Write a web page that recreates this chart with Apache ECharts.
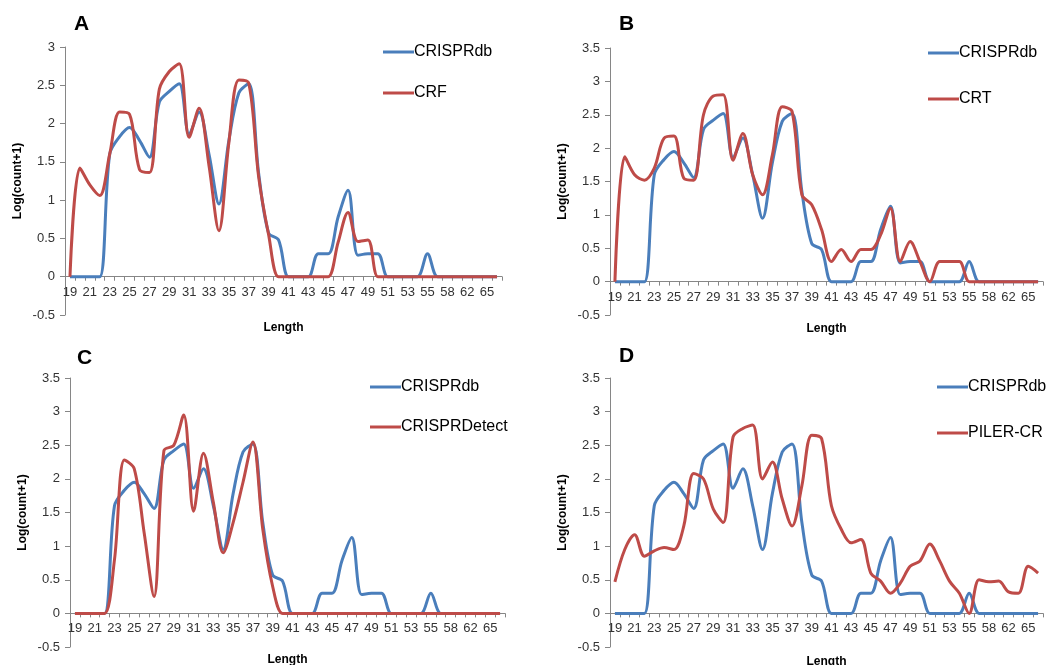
<!DOCTYPE html>
<html>
<head>
<meta charset="utf-8">
<script src="https://cdn.jsdelivr.net/npm/echarts@6/dist/echarts.min.js"></script>
<style>
html,body{margin:0;padding:0;background:#fff;}
#chart{width:1063px;height:665px;}
</style>
</head>
<body>
<div id="chart"></div>
<script>
// ---- data ----
const lengths = ['19','20','21','22','23','24','25','26','27','28','29','30','31','32','33','34','35','36','37','38','39','40','41','42','43','44','45','46','47','48','49','50','51','52','53','54','55','56','58','60','62','64','65','67'];
const crisprdb = [0,0,0,0,1.6,1.83,1.95,1.78,1.56,2.28,2.42,2.52,1.86,2.15,1.6,0.95,1.78,2.4,2.52,1.35,0.57,0.48,0,0,0,0.3,0.3,0.78,1.13,0.28,0.3,0.3,0,0,0,0,0.3,0,0,0,0,0,0,0];
const crf = [0,1.42,1.2,1.06,1.6,2.15,2.12,1.4,1.36,2.45,2.68,2.78,1.82,2.2,1.45,0.6,1.75,2.57,2.53,1.3,0.55,0,0,0,0,0,0,0.45,0.84,0.46,0.48,0,0,0,0,0,0,0,0,0,0,0,0,0];
const crt = [0,1.87,1.6,1.52,1.7,2.15,2.18,1.55,1.52,2.5,2.78,2.8,1.82,2.22,1.6,1.3,1.9,2.62,2.55,1.3,1.15,0.78,0.3,0.48,0.3,0.48,0.48,0.7,1.1,0.3,0.6,0.3,0,0.3,0.3,0.3,0,0,0,0,0,0,0,0];
const crisprDetect = [0,0,0,0,0.8,2.28,2.15,1.2,0.25,2.42,2.5,2.95,1.52,2.38,1.65,0.9,1.35,1.95,2.55,1.25,0.4,0,0,0,0,0,0,0,0,0,0,0,0,0,0,0,0,0,0,0,0,0,0,0];
const pilerCr = [0.47,0.95,1.17,0.85,0.93,0.98,0.95,1.3,2.08,2.0,1.55,1.35,2.62,2.75,2.8,2.0,2.25,1.7,1.3,1.9,2.65,2.6,1.6,1.25,1.05,1.1,0.6,0.48,0.3,0.45,0.7,0.78,1.03,0.78,0.48,0.3,0,0.5,0.47,0.48,0.32,0.3,0.7,0.6];
const panelLetters = ['A','B','C','D'];
const otherNames = ['CRF','CRT','CRISPRDetect','PILER-CR'];
const otherData = [crf, crt, crisprDetect, pilerCr];
const yMin = -0.5;
const yMax = [3, 3.5, 3.5, 3.5];

// ---- layout / style ----
const layout = [
  {grid:{left:65,top:47,width:437,height:268}, title:{left:74,top:14}, legend:{left:383,top:43,itemGap:23}, xGap:45},
  {grid:{left:610,top:48,width:433,height:267}, title:{left:619,top:14}, legend:{left:928,top:44,itemGap:28}, xGap:41},
  {grid:{left:70,top:378,width:435,height:269}, title:{left:77,top:348}, legend:{left:370,top:378,itemGap:22}, xGap:40},
  {grid:{left:610,top:378,width:433,height:269}, title:{left:619,top:346}, legend:{left:937,top:378,itemGap:28}, xGap:42}
];
const BLUE = '#4a7ebb', RED = '#be4b48', AXIS = '#868686';
const FONT = '"Liberation Sans", Arial, sans-serif';

const option = {
  animation:false,
  textStyle:{fontFamily:FONT},
  title:[], legend:[], grid:[], xAxis:[], yAxis:[], series:[]
};
panelLetters.forEach((L, i) => {
  const lay = layout[i];
  // pixel distance from grid bottom up to the zero line (layout only)
  const zeroOffset = lay.grid.height * (0 - yMin) / (yMax[i] - yMin);
  option.title.push({text:L, left:lay.title.left, top:lay.title.top, padding:0,
    textStyle:{fontSize:21, fontWeight:'bold', color:'#000', fontFamily:FONT}});
  option.grid.push(Object.assign({containLabel:false, outerBoundsMode:'none'}, lay.grid));
  option.legend.push({
    data:[{name:'CRISPRdb', itemStyle:{color:BLUE}}, {name:otherNames[i], itemStyle:{color:RED}}],
    orient:'vertical', left:lay.legend.left, top:lay.legend.top,
    padding:0, itemGap:lay.legend.itemGap, itemWidth:31, itemHeight:3, icon:'rect',
    textStyle:{fontSize:16, color:'#000', fontFamily:FONT, lineHeight:18, padding:[0,0,0,-5]},
    selectedMode:false
  });
  option.xAxis.push({
    type:'category', gridIndex:i, data:lengths, boundaryGap:true, position:'bottom',
    offset:-zeroOffset,
    name:'Length', nameLocation:'middle', nameGap:lay.xGap, nameMoveOverlap:false,
    nameTextStyle:{fontSize:12, fontWeight:'bold', color:'#000', fontFamily:FONT},
    axisLine:{onZero:false, lineStyle:{color:AXIS, width:1}},
    axisTick:{show:true, interval:0, length:4, inside:false, lineStyle:{color:AXIS}},
    axisLabel:{interval:1, fontSize:13, color:'#333', margin:9, fontFamily:FONT},
    splitLine:{show:false}
  });
  option.yAxis.push({
    type:'value', gridIndex:i, min:yMin, max:yMax[i], interval:0.5,
    name:'Log(count+1)', nameLocation:'middle', nameGap:41, nameRotate:90, nameMoveOverlap:false,
    nameTextStyle:{fontSize:12, fontWeight:'bold', color:'#000', fontFamily:FONT},
    axisLine:{show:true, onZero:false, lineStyle:{color:AXIS, width:1}},
    axisTick:{show:true, length:5, lineStyle:{color:AXIS}},
    axisLabel:{fontSize:13, color:'#333', margin:10, fontFamily:FONT},
    splitLine:{show:false}
  });
  option.series.push({
    name:'CRISPRdb', type:'line', xAxisIndex:i, yAxisIndex:i, data:crisprdb,
    smooth:0.33, symbol:'none', lineStyle:{color:BLUE, width:3}, itemStyle:{color:BLUE}, z:2
  });
  option.series.push({
    name:otherNames[i], type:'line', xAxisIndex:i, yAxisIndex:i, data:otherData[i],
    smooth:0.33, symbol:'none', lineStyle:{color:RED, width:3}, itemStyle:{color:RED}, z:3
  });
});

const chart = echarts.init(document.getElementById('chart'), null, {renderer:'canvas'});
chart.setOption(option);
</script>
</body>
</html>
